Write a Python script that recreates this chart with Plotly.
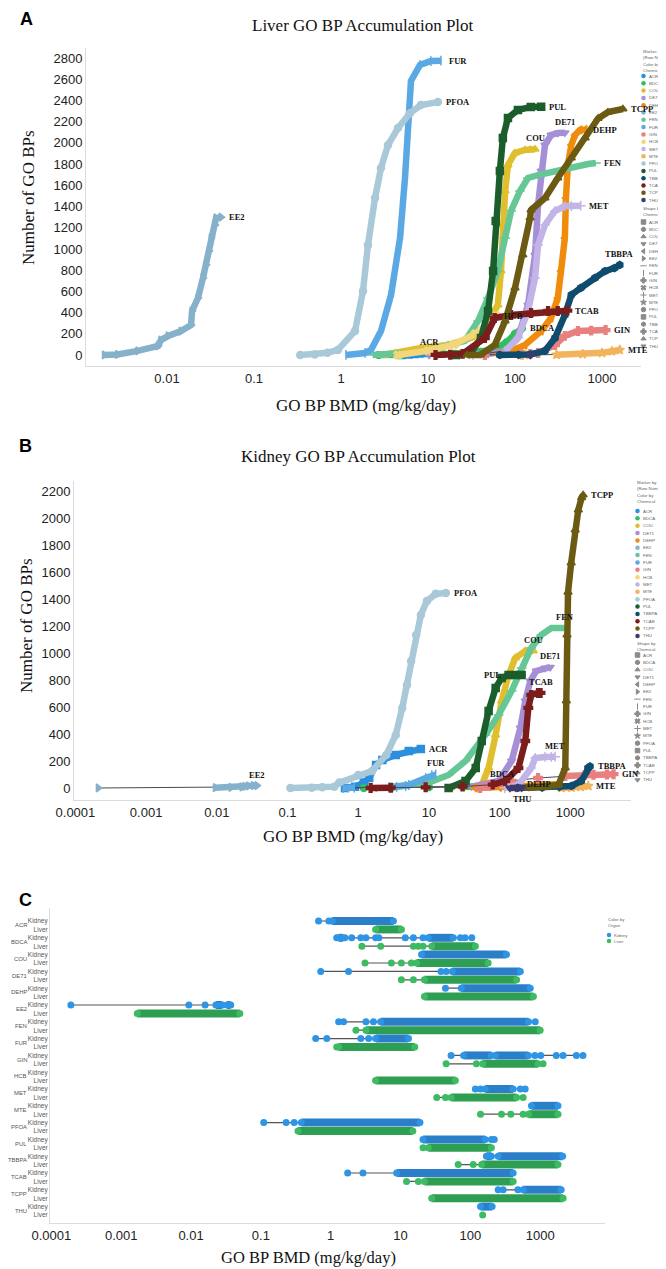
import math
import plotly.graph_objects as go

W, H = 666, 1269

CHEMS = ["ACR", "BDCA", "COU", "DE71", "DEHP", "EE2", "FEN", "FUR", "GIN", "HCB",
         "MET", "MTE", "PFOA", "PUL", "TBBPA", "TCAB", "TCPP", "THU"]
CHEM_COLORS = ["#2a8fdc", "#2fbf5f", "#e0bf2e", "#a58fd6", "#f08c0c", "#86b1cb",
               "#66c796", "#5aa9e4", "#e98080", "#f2d77a", "#c2b4e6", "#f3b35c",
               "#a9c8d8", "#1b5e2b", "#0f4c6e", "#7b1d1d", "#6b5b12", "#3e3a6e"]
CHEM_SYMBOLS = ["square", "octagon", "triangle-up", "triangle-down", "triangle-left",
                "triangle-right", "line-ew-open", "line-ns-open", "cross", "x",
                "cross-thin-open", "star", "circle", "square", "hexagon", "cross",
                "triangle-up", "triangle-down"]

A_TICKS = [0.01, 0.1, 1, 10, 100, 1000]
A_TICKTEXT = ["0.01", "0.1", "1", "10", "100", "1000"]
BC_TICKS = [0.0001, 0.001, 0.01, 0.1, 1, 10, 100, 1000]
BC_TICKTEXT = ["0.0001", "0.001", "0.01", "0.1", "1", "10", "100", "1000"]

# ---------------- Panel A: liver accumulation (BMD, cumulative count) -------------
liver_ACR_bmd = [5.0, 6.0, 7.0, 8.0, 9.0, 10.5]
liver_ACR_n = [0, 5, 10, 15, 18, 22]
liver_BDCA_bmd = [2.7, 5, 15, 20, 40, 60, 80, 100, 120]
liver_BDCA_n = [0, 3, 8, 12, 30, 60, 120, 200, 250]
liver_COU_bmd = [3.1, 4.2, 8.3, 17, 31, 45, 63.5, 69, 72, 77, 83, 100, 130, 149, 170]
liver_COU_n = [0, 19, 66, 94, 160, 226, 472, 792, 1226, 1546, 1792, 1905, 1933, 1935, 1940]
liver_DE71_bmd = [10.3, 30, 49, 77, 108, 141, 170, 184, 200, 221, 260, 310, 374]
liver_DE71_n = [0, 5, 10, 38, 160, 472, 943, 1415, 1735, 1980, 2075, 2093, 2095]
liver_DEHP_bmd = [22, 63.5, 90, 130, 200, 260, 310, 338, 374, 385, 405, 444, 490, 560, 640]
liver_DEHP_n = [0, 5, 38, 94, 226, 349, 537, 792, 1103, 1480, 1792, 1980, 2075, 2122, 2125]
liver_EE2_bmd = [0.0019, 0.0027, 0.0046, 0.0079, 0.0085, 0.0103, 0.0145, 0.0189, 0.0194,
                 0.0227, 0.0259, 0.0281, 0.0304, 0.0321, 0.0356, 0.0366, 0.0418]
liver_EE2_n = [0, 5, 38, 85, 140, 180, 225, 283, 415, 537, 726, 849, 980, 1103, 1226, 1292, 1300]
liver_FEN_bmd = [2.3, 5, 13, 26.5, 37.6, 49, 63.5, 77, 90, 114, 141, 184, 288, 444, 690, 850]
liver_FEN_n = [0, 19, 66, 132, 320, 537, 792, 1103, 1358, 1546, 1669, 1697, 1735, 1763, 1801, 1810]
liver_FUR_bmd = [1.14, 1.89, 2.21, 2.88, 3.76, 4.77, 5.44, 5.89, 6.37, 8.1, 10.8, 14.1]
liver_FUR_n = [0, 19, 47, 226, 566, 1103, 1669, 2207, 2584, 2735, 2772, 2775]
liver_GIN_bmd = [45, 120, 150, 184, 288, 374, 530, 750, 1100]
liver_GIN_n = [0, 5, 10, 19, 94, 180, 226, 230, 235]
liver_HCB_bmd = [4.5, 10, 20, 35, 50, 60]
liver_HCB_n = [0, 40, 100, 200, 300, 370]
liver_MET_bmd = [33, 77, 108, 141, 170, 184, 221, 288, 374, 444, 570]
liver_MET_n = [0, 38, 160, 415, 726, 1037, 1226, 1358, 1405, 1405, 1408]
liver_MTE_bmd = [130, 300, 600, 1000, 1300, 1600]
liver_MTE_n = [0, 3, 8, 20, 35, 47]
liver_PFOA_bmd = [0.34, 0.5, 0.7, 0.92, 1.45, 1.79, 2.04, 2.46, 2.88, 3.47, 4.52, 6.2, 8.3, 13.0]
liver_PFOA_n = [0, 5, 20, 47, 226, 603, 1037, 1480, 1763, 1980, 2140, 2280, 2357, 2385]
liver_PUL_bmd = [21, 31, 40.6, 49, 56, 60, 67, 72.5, 83, 108, 152, 200]
liver_PUL_n = [0, 19, 160, 415, 792, 1264, 1735, 2046, 2235, 2310, 2339, 2340]
liver_TBBPA_bmd = [67, 110, 150, 221, 288, 374, 444, 570, 830, 1080, 1390, 1600]
liver_TBBPA_n = [0, 2, 5, 38, 160, 377, 566, 632, 726, 790, 820, 849]
liver_TCAB_bmd = [12.2, 18, 25, 45, 58.5, 90, 153, 240, 310, 400]
liver_TCAB_n = [0, 2, 10, 160, 349, 377, 396, 415, 415, 418]
liver_TCPP_bmd = [28, 40, 58.5, 77, 100, 123, 149, 153, 221, 310, 444, 640, 900, 1170, 1740]
liver_TCPP_n = [0, 0, 94, 320, 632, 943, 1292, 1367, 1480, 1669, 1858, 2046, 2230, 2290, 2320]
liver_THU_bmd = [150]
liver_THU_n = [0]

# ---------------- Panel B: kidney accumulation ------------------------------------
kidney_ACR_bmd = [0.65, 0.9, 1.2, 1.43, 1.79, 2.2, 3.4, 5.2, 7.7]
kidney_ACR_n = [0, 10, 40, 74, 170, 207, 245, 274, 289]
kidney_BDCA_bmd = [1.2, 3, 10, 30, 60, 100, 110]
kidney_BDCA_n = [0, 3, 5, 8, 12, 18, 20]
kidney_COU_bmd = [20, 56, 70, 88, 107, 134, 167, 231, 300]
kidney_COU_n = [0, 22, 148, 393, 645, 837, 963, 1015, 1015]
kidney_DE71_bmd = [0.72, 1.8, 40, 60, 97, 148, 197, 231, 272, 330, 440, 520]
kidney_DE71_n = [0, 2, 10, 25, 52, 200, 445, 645, 793, 867, 889, 895]
kidney_DEHP_bmd = [45, 100, 200, 400, 700]
kidney_DEHP_n = [0, 5, 10, 20, 30]
kidney_EE2_bmd = [0.00021, 0.0095, 0.0159, 0.0227, 0.025, 0.028, 0.033, 0.037]
kidney_EE2_n = [0, 2, 4, 8, 12, 15, 18, 18]
kidney_FEN_bmd = [1.3, 3.2, 5, 10, 19, 33, 63, 97, 148, 205, 280, 390, 540, 850]
kidney_FEN_n = [0, 5, 15, 40, 96, 200, 393, 541, 719, 889, 1037, 1134, 1185, 1185]
kidney_FUR_bmd = [0.61, 0.88, 2.7, 3.5, 4.7, 5.2, 9.0, 11, 12.5]
kidney_FUR_n = [0, 2, 5, 8, 15, 22, 74, 96, 100]
kidney_GIN_bmd = [53, 70, 148, 350, 850, 1600, 2130, 3300, 4100]
kidney_GIN_n = [0, 15, 52, 74, 89, 96, 98, 100, 102]
kidney_MET_bmd = [118, 185, 280, 320, 440, 540, 610]
kidney_MET_n = [0, 22, 148, 222, 230, 230, 232]
kidney_MTE_bmd = [750, 1040, 1400, 1800]
kidney_MTE_n = [0, 3, 8, 15]
kidney_PFOA_bmd = [0.11, 0.22, 0.31, 0.46, 0.54, 1.0, 1.57, 2.5, 3.4, 4.2, 4.9, 5.6, 6.6, 7.7, 9.4, 12.5, 17.4]
kidney_PFOA_n = [0, 2, 5, 10, 40, 96, 126, 245, 393, 593, 763, 941, 1134, 1282, 1386, 1438, 1445]
kidney_PUL_bmd = [19, 33, 46, 56, 70, 88, 107, 134, 167, 205]
kidney_PUL_n = [0, 52, 148, 348, 571, 741, 815, 837, 837, 837]
kidney_TBBPA_bmd = [180, 400, 700, 1040, 1430, 1780, 1900]
kidney_TBBPA_n = [0, 3, 8, 15, 52, 148, 160]
kidney_TCAB_bmd = [1.5, 2.9, 9, 30, 80, 120, 185, 231, 255, 280, 350, 380]
kidney_TCAB_n = [0, 2, 5, 10, 25, 52, 148, 348, 593, 689, 704, 704]
kidney_TCPP_bmd = [250, 295, 480, 680, 850, 880, 900, 930, 1030, 1175, 1300, 1450, 1520]
kidney_TCPP_n = [0, 2, 8, 22, 148, 645, 1134, 1450, 1667, 1911, 2060, 2150, 2170]
kidney_THU_bmd = [140, 170, 205]
kidney_THU_n = [0, 1, 2]

# ---------------- Panel C: BMD ranges per chemical and organ -----------------------
# isolated points and dense ranges (lo, hi), aligned with CHEMS
kidney_dots = [[0.67, 0.94], [1.22, 1.6, 2.0, 2.7, 3.2, 4.4, 4.9, 11.7, 15.3, 21, 72, 84, 105], [],
               [0.72, 1.8, 38, 45], [44], [0.00019, 0.0093, 0.0159], [1.3, 1.53, 3.2, 4.1, 850],
               [0.61, 0.88, 2.7, 3.5], [53, 840, 1020, 1700, 2130, 3300, 4100], [],
               [118, 140, 520, 610], [], [0.11, 0.23, 0.30], [200, 220], [], [1.75, 2.9],
               [250, 295, 480], []]
kidney_bands = [[(1.05, 7.9)], [(1.3, 1.5), (25, 57)], [(20, 330)], [(55, 520)], [(74, 720)],
                [(0.0227, 0.0279), (0.0327, 0.037)], [(5.2, 680)], [(4.4, 13)],
                [(80, 200), (228, 680)], [], [(163, 410)], [(750, 1800)], [(0.38, 19)],
                [(21, 163)], [(170, 200), (250, 2100)], [(8.8, 410)], [(570, 2000)], [(140, 205)]]
liver_dots = [[], [2.8, 5.2, 15.3, 18, 21], [3.1, 7.4, 10.3, 14.3], [10.3, 15.3], [], [],
              [2.3], [1.22], [45, 122, 1100], [], [33, 44, 570], [140, 280, 380, 570], [],
              [21], [67, 110], [12.2, 18], [], [150]]
liver_bands = [[(4.4, 10.3)], [(28, 118)], [(17, 180)], [(22, 460)], [(22, 800)], [(0.0017, 0.050)],
               [(3.2, 1000)], [(1.3, 16)], [(150, 930)], [(4.4, 61)], [(53, 460)], [(680, 1800)],
               [(0.34, 15)], [(25, 200)], [(145, 1800)], [(22, 410)], [(28, 2130)], []]

ORGANS = ["Kidney", "Liver"]
ORGAN_COLORS = ["#2e95e6", "#3dbb63"]
ORGAN_BAND_COLORS = ["#2a7fc8", "#2e9e52"]

# label placement of curve names (styling, not data)
LABEL_POS_A = {"EE2": "r", "PFOA": "r", "FUR": "r", "PUL": "r", "COU": "a", "DE71": "a",
               "DEHP": "r", "FEN": "r", "TCPP": "r", "MET": "r", "TBBPA": "a", "TCAB": "r",
               "GIN": "r", "MTE": "r", "ACR": "a", "HCB": "r", "BDCA": "r"}
LABEL_POS_B = {"EE2": "a", "PFOA": "r", "ACR": "r", "FUR": "a", "PUL": "l", "COU": "a",
               "FEN": "a", "DE71": "a", "TCAB": "a", "MET": "a", "TCPP": "r", "TBBPA": "r",
               "GIN": "r", "DEHP": "l", "MTE": "r", "BDCA": "a", "THU": "b"}

SERIF = "Liberation Serif, Times New Roman, serif"
SANS = "Liberation Sans, Arial, sans-serif"

fig = go.Figure()
annotations = []


def px_x(p):
    return p / W


def px_y(p):
    return 1 - p / H


def add_curve(bmd, n, color, symbol, xa, ya):
    fig.add_trace(go.Scatter(x=bmd, y=n, mode="lines", line=dict(color="#4a4a4a", width=1),
                             xaxis=xa, yaxis=ya, hoverinfo="skip", showlegend=False))
    runs, cur = [], []
    for i in range(len(bmd) - 1):
        if math.log10(bmd[i + 1]) - math.log10(bmd[i]) <= 0.35:
            if not cur:
                cur = [i]
            cur.append(i + 1)
        else:
            if cur:
                runs.append(cur)
            cur = []
    if cur:
        runs.append(cur)
    tx, ty = [], []
    for r in runs:
        tx += [bmd[k] for k in r] + [None]
        ty += [n[k] for k in r] + [None]
    if tx:
        fig.add_trace(go.Scatter(x=tx, y=ty, mode="lines", line=dict(color=color, width=6.5),
                                 xaxis=xa, yaxis=ya, hoverinfo="skip", showlegend=False,
                                 connectgaps=False))
    fig.add_trace(go.Scatter(x=bmd, y=n, mode="markers",
                             marker=dict(symbol=symbol, size=7, color=color,
                                         line=dict(color=color, width=1.5)),
                             xaxis=xa, yaxis=ya, showlegend=False))


def add_label(name, bmd, n, pos, xa, ya):
    if pos == "l":
        k = n.index(max(n))
    else:
        k = len(bmd) - 1
    a = dict(xref=xa, yref=ya, x=math.log10(bmd[k]), y=n[k], text="<b>%s</b>" % name,
             showarrow=False, font=dict(family=SERIF, size=8.5, color="#111"))
    if pos == "r":
        a.update(xanchor="left", yanchor="middle", xshift=6)
    elif pos == "l":
        a.update(xanchor="right", yanchor="middle", xshift=-6)
    elif pos == "a":
        a.update(xanchor="center", yanchor="bottom", yshift=4)
    else:
        a.update(xanchor="center", yanchor="top", yshift=-4)
    annotations.append(a)


G = globals()
for prefix, xa, ya, lab in [("liver", "x", "y", LABEL_POS_A), ("kidney", "x2", "y2", LABEL_POS_B)]:
    present = [(i, c) for i, c in enumerate(CHEMS) if ("%s_%s_bmd" % (prefix, c)) in G]
    for i, c in present:
        add_curve(G["%s_%s_bmd" % (prefix, c)], G["%s_%s_n" % (prefix, c)],
                  CHEM_COLORS[i], CHEM_SYMBOLS[i], xa, ya)
    for i, c in present:
        if c in lab:
            add_label(c, G["%s_%s_bmd" % (prefix, c)], G["%s_%s_n" % (prefix, c)], lab[c], xa, ya)

# ---- Panel C (rows: chemical x organ, row index derived from category order)
row_labels = [o for c in CHEMS for o in ORGANS]
for i, c in enumerate(CHEMS):
    annotations.append(dict(xref="paper", yref="y3", x=px_x(20.5), y=i * 2 + 0.5, text=c,
                            showarrow=False, xanchor="right", yanchor="middle",
                            font=dict(family=SANS, size=5.9, color="#555")))
    for j, (dots_all, bands_all) in enumerate([(kidney_dots, kidney_bands), (liver_dots, liver_bands)]):
        dots, bands = dots_all[i], bands_all[i]
        vals = list(dots) + [v for bd in bands for v in bd]
        if not vals:
            continue
        row = i * 2 + j
        lo, hi = min(vals), max(vals)
        if hi > lo:
            fig.add_trace(go.Scatter(x=[lo, hi], y=[row, row], mode="lines",
                                     line=dict(color="#555", width=1.2), xaxis="x3", yaxis="y3",
                                     hoverinfo="skip", showlegend=False))
        for (bl, bh) in bands:
            fig.add_trace(go.Scatter(x=[bl, bh], y=[row, row], mode="lines",
                                     line=dict(color=ORGAN_BAND_COLORS[j], width=8),
                                     xaxis="x3", yaxis="y3", hoverinfo="skip", showlegend=False))
        fig.add_trace(go.Scatter(x=vals, y=[row] * len(vals),
                                 mode="markers", marker=dict(size=7, color=ORGAN_COLORS[j]),
                                 xaxis="x3", yaxis="y3", showlegend=False))

# ---- legends drawn on a pixel overlay axis (x4/y4)
LEG_FONT = dict(family=SANS, size=4.4, color="#666")


def leg_text(x, y, t):
    annotations.append(dict(xref="x4", yref="y4", x=x, y=y, text=t, showarrow=False,
                            xanchor="left", yanchor="middle", font=LEG_FONT))


def chem_legend(x0, y_head, y_col0, y_shape_head, y_shape0, step):
    leg_text(x0 - 1.5, y_head, "Marker by")
    leg_text(x0 - 1.5, y_head + 6, "(Row Number)")
    leg_text(x0 - 1.5, y_head + 13, "Color by")
    leg_text(x0 - 1.5, y_head + 19.5, "Chemical")
    ys = [y_col0 + step * k for k in range(len(CHEMS))]
    fig.add_trace(go.Scatter(x=[x0 + 1.5] * len(CHEMS), y=ys, mode="markers",
                             marker=dict(size=4.5, color=CHEM_COLORS), xaxis="x4", yaxis="y4",
                             showlegend=False, hoverinfo="skip"))
    for k, c in enumerate(CHEMS):
        leg_text(x0 + 4.5, ys[k], c)
    leg_text(x0 - 1.5, y_shape_head, "Shape by")
    leg_text(x0 - 1.5, y_shape_head + 6, "Chemical")
    ys2 = [y_shape0 + step * k for k in range(len(CHEMS))]
    for k, c in enumerate(CHEMS):
        fig.add_trace(go.Scatter(x=[x0 + 1.5], y=[ys2[k]], mode="markers",
                                 marker=dict(size=4.5, color="#8a8a8a", symbol=CHEM_SYMBOLS[k],
                                             line=dict(color="#8a8a8a", width=1)),
                                 xaxis="x4", yaxis="y4", showlegend=False, hoverinfo="skip"))
        leg_text(x0 + 4.5, ys2[k], c)


chem_legend(634, 43, 68, 200, 214, 7.3)
chem_legend(628, 474, 503, 635, 647, 7.35)

leg_text(598, 911, "Color by")
leg_text(598, 917, "Organ")
fig.add_trace(go.Scatter(x=[601, 601], y=[927, 933], mode="markers",
                         marker=dict(size=4.5, color=ORGAN_COLORS), xaxis="x4", yaxis="y4",
                         showlegend=False, hoverinfo="skip"))
leg_text(604, 927, "Kidney")
leg_text(604, 933, "Liver")


# ---- titles, panel letters, axis titles
def text_at(x, y, t, size, family, anchor="center", color="#111"):
    annotations.append(dict(xref="x4", yref="y4", x=x, y=y, text=t, showarrow=False,
                            xanchor=anchor, yanchor="middle",
                            font=dict(family=family, size=size, color=color)))


text_at(10, 11, "<b>A</b>", 18, SANS, "left", "#000")
text_at(9, 438, "<b>B</b>", 18, SANS, "left", "#000")
text_at(9, 892, "<b>C</b>", 18, SANS, "left", "#000")
text_at(355, 17, "Liver GO BP Accumulation Plot", 17, SERIF)
text_at(350, 448, "Kidney GO BP Accumulation Plot", 17, SERIF)
text_at(358, 397, "GO BP BMD (mg/kg/day)", 17, SERIF)
text_at(345, 828, "GO BP BMD (mg/kg/day)", 17, SERIF)
text_at(300, 1249, "GO BP BMD (mg/kg/day)", 16.5, SERIF)
for (xx, yy) in [(20, 190), (18, 618)]:
    annotations.append(dict(xref="x4", yref="y4", x=xx, y=yy, text="Number of GO BPs",
                            showarrow=False, textangle=-90, xanchor="center", yanchor="middle",
                            font=dict(family=SERIF, size=17, color="#111")))

AX_LINE = "#dcdcdc"
TICK_FONT = dict(family=SANS, size=13, color="#222")
COMMON = dict(showgrid=False, zeroline=False, showline=True, linecolor=AX_LINE, linewidth=1,
              ticks="", automargin=False)

fig.update_layout(
    template="none",
    width=W, height=H, margin=dict(l=0, r=0, t=0, b=0, pad=0, autoexpand=False),
    paper_bgcolor="white", plot_bgcolor="rgba(0,0,0,0)", showlegend=False,
    annotations=annotations,
    xaxis=dict(domain=[px_x(78), px_x(633)], type="log",
               range=[(78 - 333) / 87, (633 - 333) / 87], tickvals=A_TICKS, ticktext=A_TICKTEXT,
               tickfont=TICK_FONT, anchor="y", **COMMON),
    yaxis=dict(domain=[px_y(358), px_y(40)], range=[-104, 2895], tickvals=list(range(0, 2801, 200)),
               tickfont=TICK_FONT, anchor="x", **COMMON),
    xaxis2=dict(domain=[px_x(66), px_x(623)], type="log",
                range=[-4.02, (623 - 349) / 71], tickvals=BC_TICKS, ticktext=BC_TICKTEXT,
                tickfont=TICK_FONT, anchor="y2", **COMMON),
    yaxis2=dict(domain=[px_y(792), px_y(473)], range=[-89, 2274], tickvals=list(range(0, 2201, 200)),
                tickfont=TICK_FONT, anchor="x2", **COMMON),
    xaxis3=dict(domain=[px_x(42), px_x(597)], type="log",
                range=[-4.02, (597 - 322) / 70], tickvals=BC_TICKS, ticktext=BC_TICKTEXT,
                tickfont=TICK_FONT, anchor="y3", **COMMON),
    yaxis3=dict(domain=[px_y(1215), px_y(900)], type="linear",
                range=[35.95, -1.55], tickvals=list(range(len(row_labels))), ticktext=row_labels,
                ticklabelstandoff=0,
                tickfont=dict(family=SANS, size=6.5, color="#555"), anchor="x3", **COMMON),
    xaxis4=dict(domain=[0, 1], range=[0, W], visible=False, fixedrange=True, anchor="y4",
                automargin=False),
    yaxis4=dict(domain=[0, 1], range=[H, 0], visible=False, fixedrange=True, anchor="x4",
                automargin=False),
)

fig.write_html("out.html")
